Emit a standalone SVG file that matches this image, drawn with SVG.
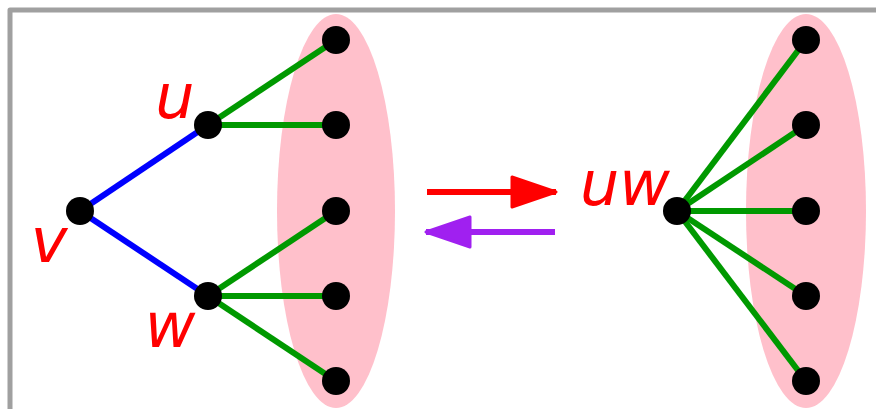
<svg xmlns="http://www.w3.org/2000/svg" width="876" height="409" viewBox="0 0 876 409">
<style>
.lbl{font-family:"DejaVu Sans",sans-serif;font-style:oblique;font-size:62px;fill:#ff0000;text-anchor:middle}
.node{fill:#000}
.g{stroke:#009900;stroke-width:6}
.b{stroke:#0000ff;stroke-width:6}
.set{fill:#ffc0cb}
</style>
<defs>
<marker id="ar" markerUnits="userSpaceOnUse" markerWidth="48" markerHeight="34" refX="46" refY="17" orient="auto"><path d="M2,2 L46,17 L2,32 Z" fill="#ff0000" stroke="#ff0000" stroke-width="3" stroke-linejoin="round"/></marker>
<marker id="ap" markerUnits="userSpaceOnUse" markerWidth="48" markerHeight="34" refX="46" refY="17" orient="auto"><path d="M2,2 L46,17 L2,32 Z" fill="#a020f0" stroke="#a020f0" stroke-width="3" stroke-linejoin="round"/></marker>
</defs>
<rect width="876" height="409" fill="#fff"/>
<path d="M10,409 L10,10 L876,10" fill="none" stroke="#a0a0a0" stroke-width="5" stroke-linejoin="round"/>
<ellipse class="set" cx="336" cy="211" rx="59" ry="197"/>
<ellipse class="set" cx="806" cy="211" rx="60" ry="197"/>
<g id="connectors">
<line class="b" x1="80" y1="211" x2="208" y2="125"/>
<line class="b" x1="80" y1="211" x2="208" y2="296"/>
<line class="g" x1="208" y1="125" x2="336" y2="40"/>
<line class="g" x1="208" y1="125" x2="336" y2="125"/>
<line class="g" x1="208" y1="296" x2="336" y2="211"/>
<line class="g" x1="208" y1="296" x2="336" y2="296"/>
<line class="g" x1="208" y1="296" x2="336" y2="381"/>
<line class="g" x1="677" y1="211" x2="806" y2="40"/>
<line class="g" x1="677" y1="211" x2="806" y2="125"/>
<line class="g" x1="677" y1="211" x2="806" y2="211"/>
<line class="g" x1="677" y1="211" x2="806" y2="296"/>
<line class="g" x1="677" y1="211" x2="806" y2="381"/>
<line x1="427" y1="192" x2="556" y2="192" stroke="#ff0000" stroke-width="6" marker-end="url(#ar)"/>
<line x1="555" y1="232" x2="426" y2="232" stroke="#a020f0" stroke-width="6" marker-end="url(#ap)"/>
</g>
<g id="v"><circle class="node" cx="80" cy="211" r="14"/><text class="lbl" x="49" y="262">v</text></g>
<g id="u"><circle class="node" cx="208" cy="125" r="14"/><text class="lbl" x="175" y="118">u</text></g>
<g id="w"><circle class="node" cx="208" cy="296" r="14"/><text class="lbl" x="170" y="347">w</text></g>
<g id="a1"><circle class="node" cx="336" cy="40" r="14"/></g>
<g id="a2"><circle class="node" cx="336" cy="125" r="14"/></g>
<g id="a3"><circle class="node" cx="336" cy="211" r="14"/></g>
<g id="a4"><circle class="node" cx="336" cy="296" r="14"/></g>
<g id="a5"><circle class="node" cx="336" cy="381" r="14"/></g>
<g id="uw"><circle class="node" cx="677" cy="211" r="14"/><text class="lbl" x="625" y="205">uw</text></g>
<g id="b1"><circle class="node" cx="806" cy="40" r="14"/></g>
<g id="b2"><circle class="node" cx="806" cy="125" r="14"/></g>
<g id="b3"><circle class="node" cx="806" cy="211" r="14"/></g>
<g id="b4"><circle class="node" cx="806" cy="296" r="14"/></g>
<g id="b5"><circle class="node" cx="806" cy="381" r="14"/></g>
</svg>
